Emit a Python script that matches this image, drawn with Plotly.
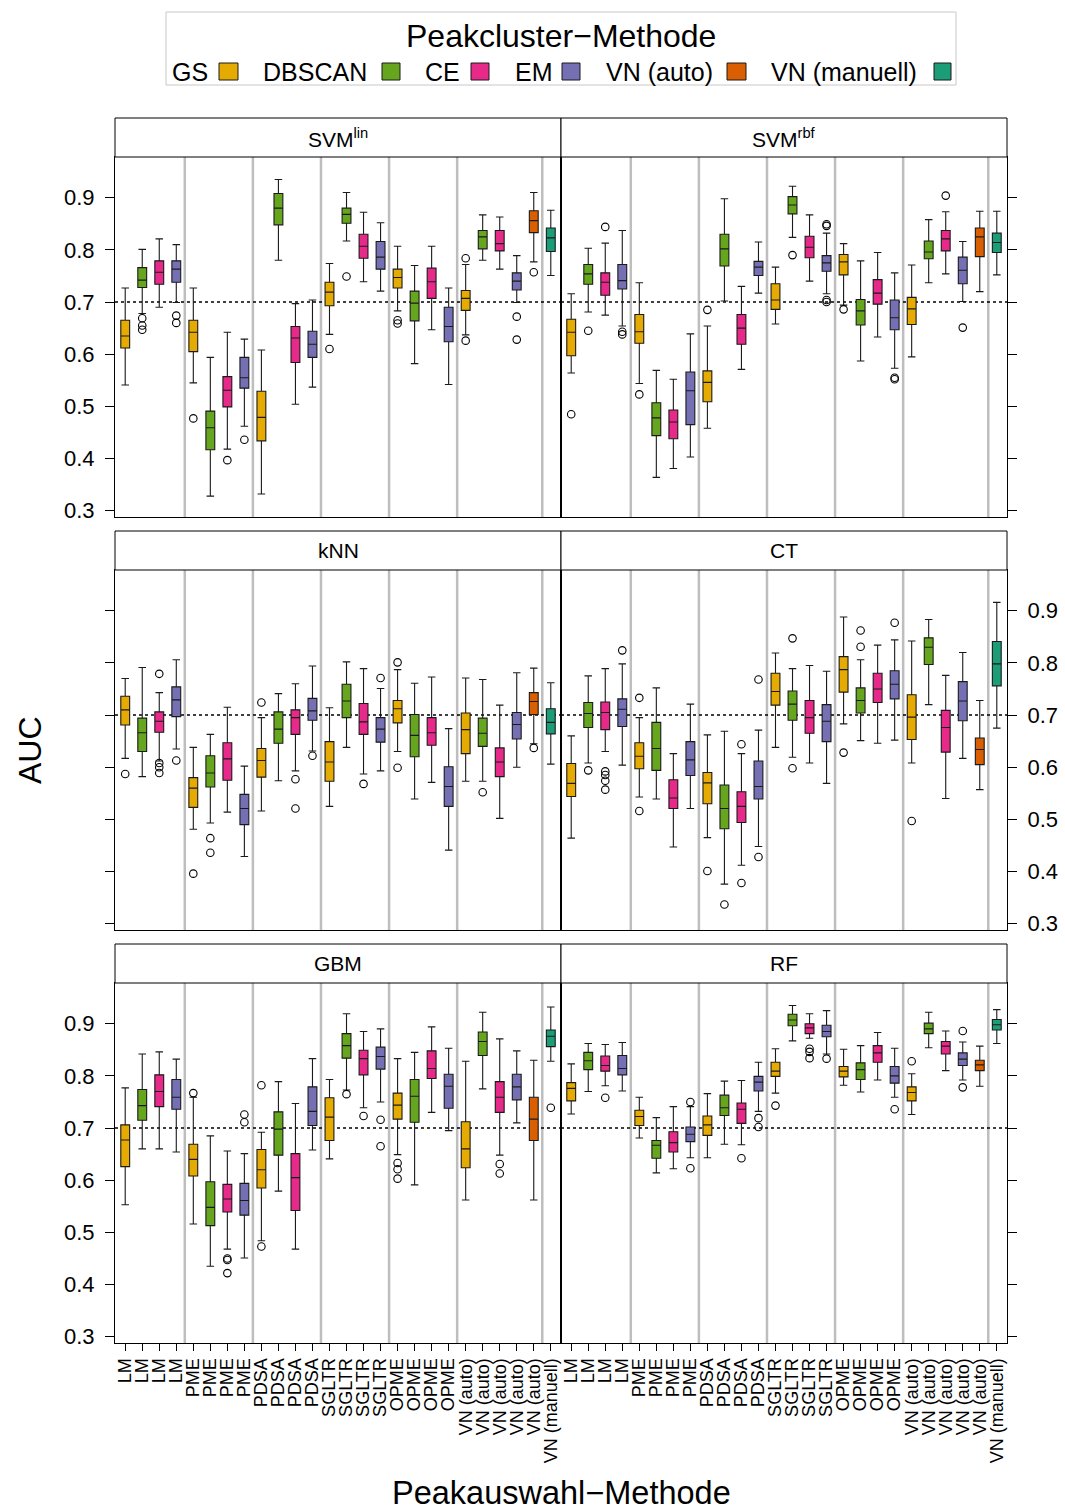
import plotly.graph_objects as go

W, H = 1065, 1510
H_DRAW = 1504  # effective drawing height used to place panels in paper units

# ---------------------------------------------------------------- categories
CLUSTER_METHODS = ["GS", "DBSCAN", "CE", "EM", "VN (auto)", "VN (manuell)"]
CLUSTER_COLORS = ["#E6AB02", "#66A61E", "#E7298A", "#7570B3", "#D95F02", "#1B9E77"]

SELECTION_LABELS = (["LM"] * 4 + ["PME"] * 4 + ["PDSA"] * 4 + ["SGLTR"] * 4
                    + ["OPME"] * 4 + ["VN (auto)"] * 5 + ["VN (manuell)"])
BOX_CLUSTER = ["GS", "DBSCAN", "CE", "EM"] * 6 + ["VN (auto)", "VN (manuell)"]
POSITIONS = list(range(1, len(SELECTION_LABELS) + 1))
GROUP_SEPARATORS = [4.5, 8.5, 12.5, 16.5, 20.5, 25.5]

Y_TICKS = [0.3, 0.4, 0.5, 0.6, 0.7, 0.8, 0.9]

# ---------------------------------------------------------------- SVM (linear)
svmlin_lower = [.541, .678, .690, .699, .545, .328, .418, .462, .332, .780, .504, .537, .638,
                .817, .739, .721, .683, .582, .647, .542, .637, .780, .763, .699, .777, .751]
svmlin_q1 = [.612, .728, .734, .738, .605, .417, .499, .535, .434, .848, .584, .594, .693,
             .851, .784, .763, .727, .664, .707, .624, .684, .802, .798, .723, .833, .797]
svmlin_median = [.635, .742, .757, .763, .642, .459, .531, .555, .479, .880, .631, .619, .719,
                 .868, .807, .786, .747, .698, .739, .653, .707, .825, .812, .740, .856, .823]
svmlin_q3 = [.665, .766, .779, .779, .665, .491, .557, .594, .529, .908, .653, .644, .738,
             .880, .830, .816, .763, .721, .765, .690, .722, .837, .837, .756, .875, .842]
svmlin_upper = [.727, .801, .821, .810, .727, .594, .642, .629, .608, .935, .697, .704, .774,
                .910, .872, .852, .807, .770, .807, .727, .772, .867, .863, .789, .910, .876]
svmlin_outliers = {2: [.669, .655, .647], 4: [.674, .660], 5: [.477], 7: [.397], 8: [.436],
                   13: [.610], 14: [.749], 17: [.665, .659], 21: [.784, .626],
                   24: [.672, .628], 25: [.757]}

# ---------------------------------------------------------------- SVM (rbf)
svmrbf_lower = [.564, .681, .675, .654, .544, .364, .381, .403, .458, .702, .571, .717, .658,
                .824, .740, .716, .694, .587, .633, .573, .595, .737, .754, .701, .720, .752]
svmrbf_q1 = [.597, .734, .713, .725, .621, .444, .438, .465, .509, .769, .619, .751, .686,
             .869, .785, .759, .752, .656, .696, .647, .657, .783, .798, .735, .787, .795]
svmrbf_median = [.642, .754, .738, .741, .643, .478, .470, .530, .546, .802, .650, .767, .704,
                 .886, .805, .775, .777, .683, .717, .670, .687, .796, .821, .761, .825, .814]
svmrbf_q3 = [.667, .772, .756, .772, .676, .507, .493, .566, .568, .830, .676, .778, .735,
             .902, .826, .789, .791, .705, .743, .704, .709, .817, .837, .786, .842, .832]
svmrbf_upper = [.716, .803, .813, .837, .737, .569, .552, .639, .654, .898, .730, .815, .767,
                .922, .867, .832, .812, .779, .795, .756, .771, .858, .873, .816, .874, .874]
svmrbf_outliers = {1: [.485], 2: [.645], 3: [.844], 4: [.643, .638], 5: [.523], 9: [.685],
                   14: [.790], 16: [.849, .846, .704, .700], 17: [.686], 20: [.555, .552],
                   23: [.904], 24: [.651]}

# ---------------------------------------------------------------- kNN
knn_lower = [.617, .582, .612, .635, .481, .493, .514, .429, .516, .574, .593, .631, .525,
             .638, .587, .593, .630, .539, .571, .441, .573, .573, .502, .600, .645, .606]
knn_q1 = [.681, .630, .667, .697, .523, .562, .575, .490, .581, .646, .663, .690, .573,
          .695, .663, .648, .685, .620, .642, .525, .626, .640, .582, .654, .701, .664]
knn_median = [.710, .666, .688, .729, .560, .589, .616, .521, .613, .673, .695, .708, .610,
              .727, .687, .673, .712, .661, .666, .563, .672, .665, .610, .682, .726, .686]
knn_q3 = [.736, .694, .706, .754, .580, .622, .647, .548, .636, .706, .710, .732, .649,
          .759, .722, .695, .728, .701, .695, .601, .704, .694, .637, .705, .743, .712]
knn_upper = [.770, .791, .743, .806, .638, .663, .715, .602, .695, .741, .760, .794, .714,
             .802, .789, .751, .787, .761, .773, .674, .771, .768, .719, .781, .790, .762]
knn_outliers = {1: [.587], 3: [.779, .608, .600, .589], 4: [.613], 5: [.396], 6: [.464, .436],
                9: [.724], 11: [.577, .521], 12: [.622], 15: [.568], 16: [.771],
                17: [.801, .599], 22: [.552], 25: [.637]}

# ---------------------------------------------------------------- CT
ct_lower = [.464, .608, .630, .604, .543, .539, .447, .521, .465, .376, .412, .448, .638,
            .619, .608, .569, .683, .651, .646, .652, .608, .720, .540, .617, .557, .675]
ct_q1 = [.544, .676, .672, .678, .597, .594, .521, .584, .530, .482, .494, .539, .719,
         .690, .665, .649, .744, .704, .724, .731, .653, .797, .629, .689, .605, .756]
ct_median = [.569, .703, .705, .711, .621, .636, .541, .614, .570, .521, .525, .563, .745,
             .721, .695, .688, .787, .728, .750, .759, .696, .830, .676, .727, .634, .798]
ct_q3 = [.607, .724, .725, .731, .647, .686, .576, .649, .590, .566, .553, .612, .780,
         .746, .728, .720, .812, .752, .780, .785, .739, .848, .709, .764, .656, .841]
ct_upper = [.660, .775, .789, .798, .695, .752, .626, .721, .662, .669, .626, .671, .819,
            .789, .795, .784, .888, .806, .834, .844, .842, .883, .776, .820, .728, .916]
ct_outliers = {2: [.594], 3: [.592, .585, .574, .557], 4: [.824], 5: [.733, .516], 9: [.401],
               10: [.337], 11: [.644, .378], 12: [.768, .428], 14: [.847, .598], 17: [.628],
               18: [.862, .831], 20: [.877], 21: [.497]}

# ---------------------------------------------------------------- GBM
gbm_lower = [.553, .660, .660, .654, .516, .435, .468, .451, .484, .579, .468, .658, .641,
             .773, .739, .750, .649, .591, .730, .695, .562, .775, .648, .710, .562, .828]
gbm_q1 = [.626, .715, .741, .736, .608, .513, .539, .533, .585, .648, .542, .705, .676,
          .834, .802, .813, .717, .711, .795, .738, .624, .839, .730, .754, .676, .856]
gbm_median = [.677, .743, .770, .759, .640, .548, .564, .561, .620, .698, .605, .732, .721,
              .858, .833, .837, .744, .761, .814, .780, .660, .866, .759, .779, .717, .876]
gbm_q3 = [.706, .774, .802, .793, .669, .597, .592, .594, .659, .731, .651, .779, .758,
          .881, .849, .855, .767, .793, .848, .803, .712, .884, .789, .803, .759, .888]
gbm_upper = [.777, .842, .846, .832, .759, .685, .656, .651, .692, .789, .747, .833, .793,
             .919, .885, .890, .833, .845, .894, .853, .828, .922, .871, .848, .830, .932]
gbm_outliers = {5: [.767], 7: [.450, .447, .422], 8: [.726, .711], 9: [.782, .473],
                14: [.765], 15: [.723], 16: [.716, .665], 17: [.633, .621, .603],
                23: [.631, .613], 26: [.739]}

# ---------------------------------------------------------------- RF
rf_lower = [.727, .770, .781, .771, .681, .614, .622, .643, .643, .669, .668, .732, .767,
            .867, .872, .842, .782, .769, .792, .759, .726, .854, .810, .792, .780, .862]
rf_q1 = [.752, .812, .809, .802, .705, .642, .654, .674, .686, .724, .709, .771, .799,
         .896, .881, .875, .798, .793, .826, .786, .752, .881, .842, .820, .810, .888]
rf_median = [.776, .829, .820, .814, .722, .667, .672, .688, .706, .739, .736, .788, .809,
             .907, .892, .885, .809, .812, .844, .800, .768, .890, .857, .832, .821, .898]
rf_q3 = [.787, .845, .838, .839, .734, .676, .693, .702, .723, .763, .748, .799, .826,
         .918, .900, .897, .818, .825, .858, .818, .779, .901, .866, .844, .830, .908]
rf_upper = [.823, .862, .860, .864, .759, .720, .741, .741, .766, .790, .791, .826, .852,
            .935, .919, .925, .851, .858, .883, .853, .804, .922, .886, .865, .857, .927]
rf_outliers = {3: [.758], 8: [.750, .623], 11: [.642], 12: [.719, .702], 13: [.743],
               15: [.852, .846, .834], 16: [.833], 20: [.736], 21: [.828], 24: [.886, .778]}

PANELS = [
    ("SVM<sup>lin</sup>", svmlin_lower, svmlin_q1, svmlin_median, svmlin_q3, svmlin_upper, svmlin_outliers),
    ("SVM<sup>rbf</sup>", svmrbf_lower, svmrbf_q1, svmrbf_median, svmrbf_q3, svmrbf_upper, svmrbf_outliers),
    ("kNN", knn_lower, knn_q1, knn_median, knn_q3, knn_upper, knn_outliers),
    ("CT", ct_lower, ct_q1, ct_median, ct_q3, ct_upper, ct_outliers),
    ("GBM", gbm_lower, gbm_q1, gbm_median, gbm_q3, gbm_upper, gbm_outliers),
    ("RF", rf_lower, rf_q1, rf_median, rf_q3, rf_upper, rf_outliers),
]

# ---------------------------------------------------------------- page geometry (px)
COL_X = [(115, 561), (561, 1007)]
ROW_Y = [(157, 517), (570, 930), (983, 1343)]
STRIP_H = 39
FONT = "Liberation Sans, Arial, Helvetica, sans-serif"


def fx(px):
    return px / W


def fy(py):
    return 1 - py / H_DRAW


fig = go.Figure()
shapes = []
annotations = []
layout_axes = {}

for idx, (title, lo, q1, med, q3, hi, outl) in enumerate(PANELS):
    k = idx + 1
    row, col = divmod(idx, 2)
    x0, x1 = COL_X[col]
    y0, y1 = ROW_Y[row]
    xs = "x" if k == 1 else f"x{k}"
    ys = "y" if k == 1 else f"y{k}"

    # boxes, one trace per clustering method
    for method, color in zip(CLUSTER_METHODS, CLUSTER_COLORS):
        idxs = [i for i, c in enumerate(BOX_CLUSTER) if c == method]
        fig.add_trace(go.Box(
            x=[POSITIONS[i] for i in idxs],
            q1=[q1[i] for i in idxs], median=[med[i] for i in idxs],
            q3=[q3[i] for i in idxs], lowerfence=[lo[i] for i in idxs],
            upperfence=[hi[i] for i in idxs],
            width=0.52, whiskerwidth=0.85,
            fillcolor=color, line=dict(color="#1a1a1a", width=1.1),
            xaxis=xs, yaxis=ys, showlegend=False, hoverinfo="skip",
        ))

    # outlying values
    ox, oy = [], []
    for pos, vals in outl.items():
        for v in vals:
            ox.append(pos)
            oy.append(v)
    fig.add_trace(go.Scatter(
        x=ox, y=oy, mode="markers", xaxis=xs, yaxis=ys, showlegend=False,
        hoverinfo="skip",
        marker=dict(symbol="circle-open", size=7.5, color="black", line=dict(width=1.1)),
    ))

    # group separators and reference line
    for sx in GROUP_SEPARATORS:
        shapes.append(dict(type="line", xref=xs, yref=f"{ys} domain", x0=sx, x1=sx,
                           y0=0, y1=1, line=dict(color="#BEBEBE", width=2.5), layer="below"))
    shapes.append(dict(type="line", xref=f"{xs} domain", yref=ys, x0=0, x1=1, y0=0.7, y1=0.7,
                       line=dict(color="black", width=1.5, dash="dot"), layer="below"))

    # strip with panel title
    shapes.append(dict(type="rect", xref="paper", yref="paper", x0=fx(x0), x1=fx(x1),
                       y0=fy(y0), y1=fy(y0 - STRIP_H), fillcolor="white",
                       line=dict(color="black", width=1)))
    annotations.append(dict(text=title, xref="paper", yref="paper",
                            x=fx((x0 + x1) / 2), y=fy(y0 - STRIP_H / 2),
                            showarrow=False, xanchor="center", yanchor="middle",
                            font=dict(size=21, color="black", family=FONT)))

    bottom = row == 2
    xaxis = dict(domain=[fx(x0), fx(x1)], range=[0.4, 26.6], anchor=ys,
                 showgrid=False, zeroline=False, showline=True, mirror=True,
                 linecolor="black", linewidth=1)
    if bottom:
        xaxis.update(tickmode="array", tickvals=POSITIONS, ticktext=SELECTION_LABELS,
                     tickangle=-90, ticks="outside", ticklen=7, tickcolor="black",
                     tickfont=dict(size=18, color="black", family=FONT))
    else:
        xaxis.update(showticklabels=False, ticks="")

    show_labels = (col == 0 and row != 1) or (col == 1 and row == 1)
    yaxis = dict(domain=[fy(y1), fy(y0)], range=[0.288, 0.978], anchor=xs,
                 side="left" if col == 0 else "right",
                 showgrid=False, zeroline=False, showline=True, mirror=True,
                 linecolor="black", linewidth=1,
                 tickmode="array", tickvals=Y_TICKS, ticktext=[f"{t:.1f}" for t in Y_TICKS],
                 ticks="outside", ticklen=9, tickcolor="black",
                 showticklabels=show_labels, ticklabelstandoff=6,
                 tickfont=dict(size=22, color="black", family=FONT))

    layout_axes["xaxis" if k == 1 else f"xaxis{k}"] = xaxis
    layout_axes["yaxis" if k == 1 else f"yaxis{k}"] = yaxis

# ---------------------------------------------------------------- key (text, then swatch)
shapes.append(dict(type="rect", xref="paper", yref="paper", x0=fx(166), x1=fx(956),
                   y0=fy(85), y1=fy(12), line=dict(color="#c8c8c8", width=1),
                   fillcolor="rgba(0,0,0,0)"))
annotations.append(dict(text="Peakcluster\u2212Methode", xref="paper", yref="paper",
                        x=fx(561), y=fy(36), showarrow=False, xanchor="center",
                        yanchor="middle", font=dict(size=32, color="black", family=FONT)))
KEY_TEXT_X = [170, 261, 423, 513, 604, 769]
KEY_BOX_X = [(219, 238), (382, 400), (471, 489), (562, 580), (727, 746), (934, 951)]
for name, color, tx, (bx0, bx1) in zip(CLUSTER_METHODS, CLUSTER_COLORS, KEY_TEXT_X, KEY_BOX_X):
    annotations.append(dict(text=name, xref="paper", yref="paper", x=fx(tx), y=fy(72),
                            showarrow=False, xanchor="left", yanchor="middle",
                            font=dict(size=25, color="black", family=FONT)))
    shapes.append(dict(type="rect", xref="paper", yref="paper", x0=fx(bx0), x1=fx(bx1),
                       y0=fy(80), y1=fy(63), fillcolor=color,
                       line=dict(color="#1a1a1a", width=1)))

# ---------------------------------------------------------------- axis titles
annotations.append(dict(text="AUC", xref="paper", yref="paper", x=fx(30), y=fy(750),
                        showarrow=False, textangle=-90, xanchor="center", yanchor="middle",
                        font=dict(size=32, color="black", family=FONT)))
annotations.append(dict(text="Peakauswahl\u2212Methode", xref="paper", yref="paper",
                        x=fx(561), y=fy(1493), showarrow=False, xanchor="center",
                        yanchor="middle", font=dict(size=32.5, color="black", family=FONT)))

fig.update_layout(
    width=W, height=H, autosize=False,
    margin=dict(l=0, r=0, t=0, b=0),
    paper_bgcolor="white", plot_bgcolor="white",
    boxmode="overlay",
    shapes=shapes, annotations=annotations,
    font=dict(family=FONT, color="black"),
    **layout_axes,
)

fig.write_html("out.html")
